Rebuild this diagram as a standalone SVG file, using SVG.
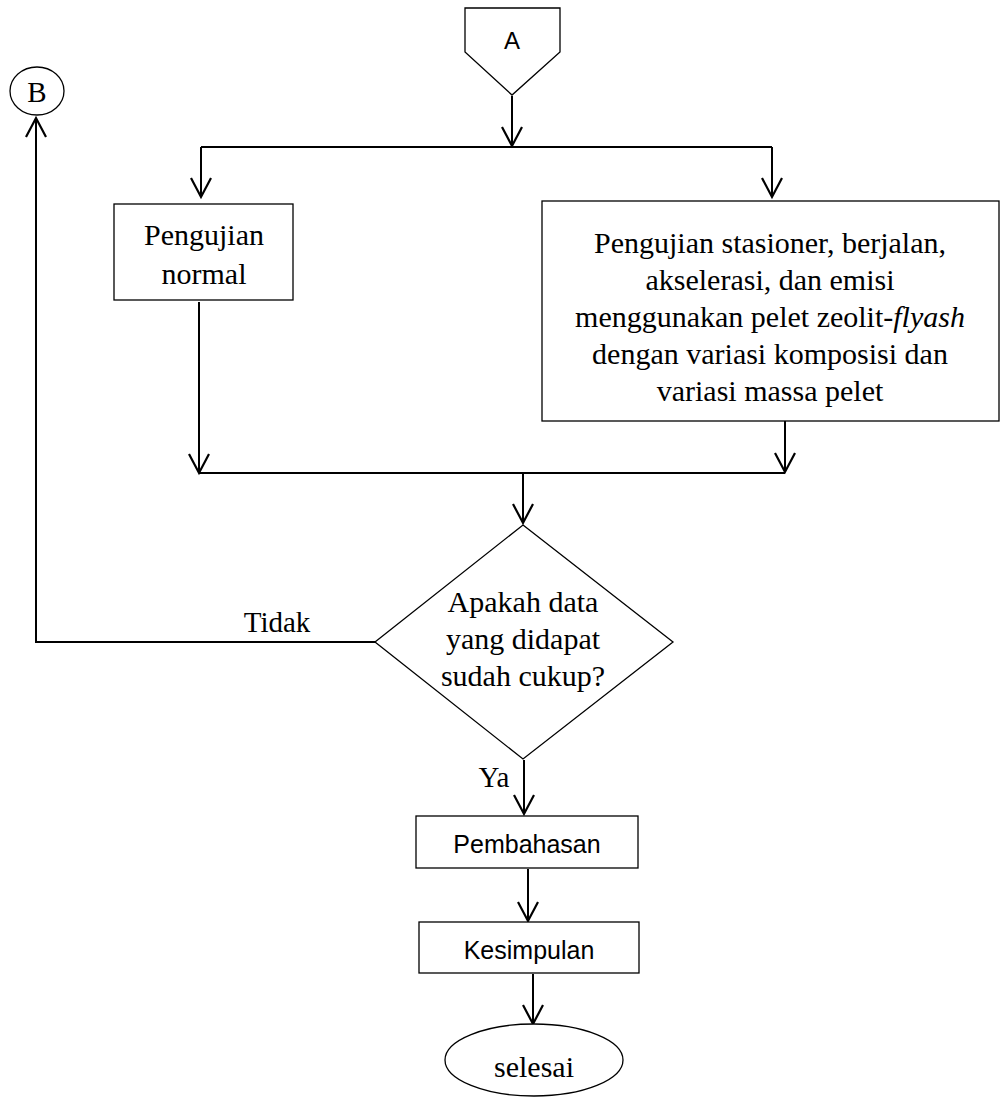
<svg xmlns="http://www.w3.org/2000/svg" width="1002" height="1099" viewBox="0 0 1002 1099">
<style>
.shape{fill:#fff;stroke:#000;stroke-width:1.3}
.conn{fill:none;stroke:#000;stroke-width:2}
.serif{font-family:"Liberation Serif","Times New Roman",serif;fill:#000}
.sans{font-family:"Liberation Sans",Arial,sans-serif;fill:#000}
</style>
<defs>
<marker id="arr" viewBox="0 0 24 24" refX="20" refY="12" markerWidth="24" markerHeight="24" markerUnits="userSpaceOnUse" orient="auto">
<path d="M1,2 L20,12 L1,22" fill="none" stroke="#000" stroke-width="2.2"/>
</marker>
</defs>
<rect width="1002" height="1099" fill="#fff"/>
<g id="connectors">
<line class="conn" x1="512" y1="96" x2="512" y2="146" marker-end="url(#arr)"/>
<line class="conn" x1="201" y1="147" x2="772" y2="147"/>
<line class="conn" x1="201" y1="147" x2="201" y2="197" marker-end="url(#arr)"/>
<line class="conn" x1="772" y1="147" x2="772" y2="197" marker-end="url(#arr)"/>
<line class="conn" x1="199" y1="302" x2="199" y2="473" marker-end="url(#arr)"/>
<line class="conn" x1="785" y1="421" x2="785" y2="472" marker-end="url(#arr)"/>
<line class="conn" x1="199" y1="473" x2="785" y2="473"/>
<line class="conn" x1="523" y1="473" x2="523" y2="523" marker-end="url(#arr)"/>
<polyline class="conn" points="375,642 36,642 36,118" marker-end="url(#arr)"/>
<line class="conn" x1="524" y1="760" x2="524" y2="814" marker-end="url(#arr)"/>
<line class="conn" x1="528" y1="869" x2="528" y2="921" marker-end="url(#arr)"/>
<line class="conn" x1="533" y1="974" x2="533" y2="1024" marker-end="url(#arr)"/>
<text class="serif" x="277" y="632" font-size="29" text-anchor="middle">Tidak</text>
<text class="serif" x="494" y="787" font-size="29" text-anchor="middle">Ya</text>
</g>
<g id="node-A">
<polygon class="shape" points="465,8 560,8 560,52 512,95 465,52"/>
<text class="sans" x="512" y="49" font-size="24" text-anchor="middle">A</text>
</g>
<g id="node-B">
<ellipse class="shape" cx="37" cy="91" rx="27" ry="24"/>
<text class="serif" x="37" y="102" font-size="29" text-anchor="middle">B</text>
</g>
<g id="node-normal">
<rect class="shape" x="114" y="204" width="179" height="96"/>
<text class="serif" x="204" y="245" font-size="30" text-anchor="middle">Pengujian</text>
<text class="serif" x="204" y="284" font-size="30" text-anchor="middle">normal</text>
</g>
<g id="node-pengujian">
<rect class="shape" x="542" y="201" width="457" height="220"/>
<g class="serif" font-size="30" text-anchor="middle">
<text x="770" y="253">Pengujian stasioner, berjalan,</text>
<text x="770" y="290">akselerasi, dan emisi</text>
<text x="770" y="327">menggunakan pelet zeolit-<tspan font-style="italic">flyash</tspan></text>
<text x="770" y="364">dengan variasi komposisi dan</text>
<text x="770" y="401">variasi massa pelet</text>
</g>
</g>
<g id="node-decision">
<polygon class="shape" points="523,525 673,642 523,759 375,642"/>
<g class="serif" font-size="30" text-anchor="middle">
<text x="523" y="612">Apakah data</text>
<text x="523" y="649">yang didapat</text>
<text x="523" y="686">sudah cukup?</text>
</g>
</g>
<g id="node-pembahasan">
<rect class="shape" x="416" y="816" width="222" height="52"/>
<text class="sans" x="527" y="853" font-size="25" text-anchor="middle">Pembahasan</text>
</g>
<g id="node-kesimpulan">
<rect class="shape" x="419" y="922" width="220" height="51"/>
<text class="sans" x="529" y="959" font-size="25" text-anchor="middle">Kesimpulan</text>
</g>
<g id="node-selesai">
<ellipse class="shape" cx="534" cy="1060" rx="89" ry="36"/>
<text class="serif" x="534" y="1077" font-size="30" text-anchor="middle">selesai</text>
</g>
</svg>
